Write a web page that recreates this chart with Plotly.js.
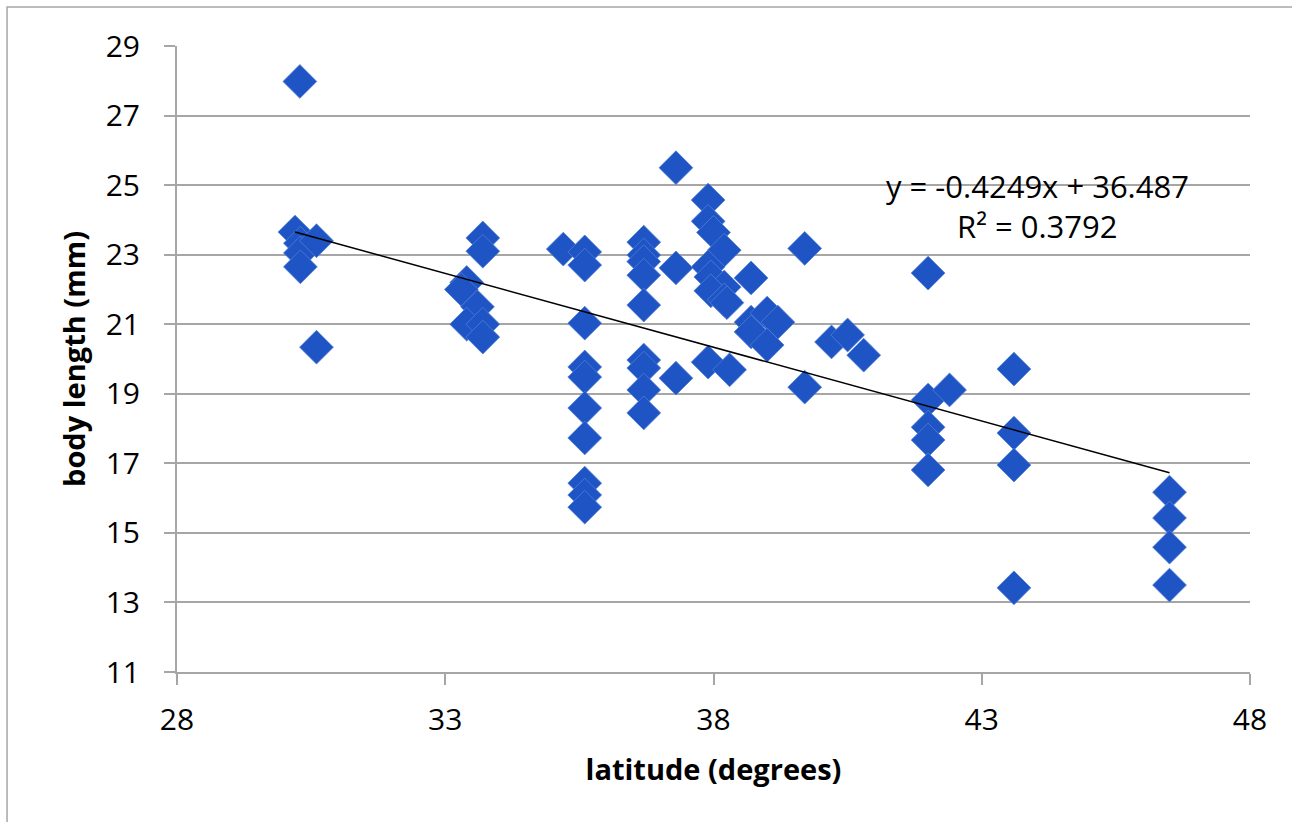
<!DOCTYPE html>
<html>
<head>
<meta charset="utf-8">
<script src="https://cdn.plot.ly/plotly-3.0.1.min.js"></script>
<style>html,body{margin:0;padding:0;background:#fff;}#chart{width:1292px;height:822px;}</style>
</head>
<body>
<div id="chart"></div>
<script>
const latitude = [30.29, 30.2, 30.3, 30.3, 30.3, 30.6, 30.6,
  33.7, 33.7, 33.4, 33.3, 33.6, 33.4, 33.7, 33.7,
  35.2, 35.6, 35.6, 35.6, 35.6, 35.6, 35.6, 35.6, 35.6, 35.6, 35.6,
  36.7, 36.7, 36.7, 36.7, 36.7, 36.7, 36.7, 36.7, 36.7,
  37.3, 37.3, 37.3,
  37.9, 37.9, 38.0, 38.2, 37.9, 37.95, 38.2, 37.95, 38.2, 38.25, 37.9, 38.3,
  38.7, 38.7, 39.0, 39.2, 38.7, 39.0,
  39.7, 39.7, 40.2, 40.5, 40.8,
  42.0, 42.0, 42.4, 42.0, 42.0, 42.0,
  43.6, 43.6, 43.6, 43.6,
  46.5, 46.5, 46.5, 46.5];
const bodyLength = [27.98, 23.65, 23.33, 23.05, 22.65, 23.4, 20.34,
  23.48, 23.1, 22.2, 22.0, 21.5, 21.0, 21.0, 20.63,
  23.16, 23.08, 22.7, 21.03, 19.77, 19.48, 18.59, 17.73, 16.43, 16.09, 15.74,
  23.36, 22.99, 22.8, 22.41, 21.55, 19.97, 19.74, 19.11, 18.45,
  25.5, 22.62, 19.45,
  24.57, 23.96, 23.64, 23.13, 22.65, 22.36, 22.07, 21.96, 21.7, 21.62, 19.91, 19.69,
  22.33, 21.06, 21.32, 21.06, 20.78, 20.4,
  23.18, 19.19, 20.49, 20.69, 20.11,
  22.47, 18.82, 19.11, 18.04, 17.67, 16.81,
  19.71, 17.87, 16.95, 13.42,
  16.17, 15.43, 14.59, 13.5];
const trendX = [30.2, 46.5];
const trendY = [23.65, 16.73];
const equationText = 'y = -0.4249x + 36.487';
const r2Text = 'R\u00B2 = 0.3792';
const xTicks = [28, 33, 38, 43, 48];
const yTicks = [11, 13, 15, 17, 19, 21, 23, 25, 27, 29];

const fontFam = '"Open Sans", "Liberation Sans", sans-serif';
const gridCol = '#a6a6a6';

const traces = [
  {
    x: latitude, y: bodyLength, type: 'scatter', mode: 'markers',
    marker: {symbol: 'diamond', size: 26, color: 'rgb(30,84,196)',
      line: {width: 0.8, color: 'rgb(80,125,215)'}},
    hoverinfo: 'x+y', showlegend: false
  },
  {
    x: trendX, y: trendY, type: 'scatter', mode: 'lines',
    line: {color: '#000000', width: 1.5}, hoverinfo: 'skip', showlegend: false
  }
];

const layout = {
  width: 1292, height: 822,
  margin: {l: 177, r: 42, t: 46, b: 150},
  paper_bgcolor: '#ffffff', plot_bgcolor: '#ffffff',
  font: {family: fontFam, color: '#000000', size: 30},
  xaxis: {
    range: [28, 48], tickvals: xTicks, ticktext: xTicks.map(String),
    showgrid: false, zeroline: false,
    showline: true, linecolor: gridCol, linewidth: 2,
    ticks: 'outside', ticklen: 11, tickcolor: gridCol, tickwidth: 2,
    ticklabelstandoff: 9,
    tickfont: {family: fontFam, size: 30, color: '#000'},
    title: {text: '<b>latitude (degrees)</b>', standoff: 22,
      font: {family: fontFam, size: 29, color: '#000'}}
  },
  yaxis: {
    range: [11, 29], tickvals: yTicks, ticktext: yTicks.map(String),
    showgrid: true, gridcolor: gridCol, gridwidth: 2, zeroline: false,
    showline: true, linecolor: gridCol, linewidth: 2,
    ticks: 'outside', ticklen: 11, tickcolor: gridCol, tickwidth: 2,
    ticklabelstandoff: 18,
    tickfont: {family: fontFam, size: 30, color: '#000'},
    title: {text: '<b>body length (mm)</b>', standoff: 12,
      font: {family: fontFam, size: 29, color: '#000'}}
  },
  annotations: [
    {xref: 'x', yref: 'y', x: 44.03, y: 24.97, text: equationText, showarrow: false,
      xanchor: 'center', yanchor: 'middle', font: {family: fontFam, size: 31, color: '#000'}},
    {xref: 'x', yref: 'y', x: 44.03, y: 23.82, text: r2Text, showarrow: false,
      xanchor: 'center', yanchor: 'middle', font: {family: fontFam, size: 31, color: '#000'}}
  ],
  shapes: [
    {type: 'rect', xref: 'paper', yref: 'paper', x0: -0.1584, x1: 1.05, y0: -0.3, y1: 1.0623,
      line: {color: '#a6a6a6', width: 1.5}, fillcolor: 'rgba(0,0,0,0)', layer: 'below'}
  ]
};

Plotly.newPlot('chart', traces, layout, {displayModeBar: false, staticPlot: true});
</script>
</body>
</html>
